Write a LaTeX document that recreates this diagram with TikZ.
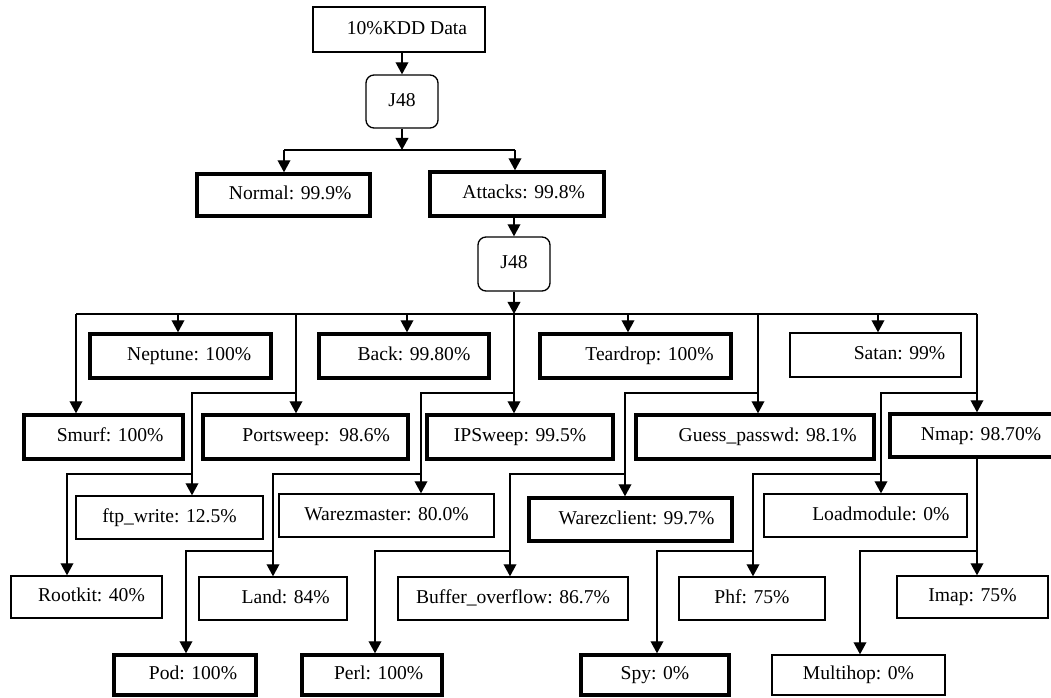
\documentclass[tikz,border=0pt]{standalone}
\usepackage{fontspec}
\setmainfont{Liberation Serif}
\usetikzlibrary{arrows.meta}
\tikzset{
  box/.style={draw, line width=1pt, inner sep=0pt, font=\fontsize{14.7}{17}\selectfont, text height=10pt, text depth=3.2pt},
  boldbox/.style={box, line width=2.5pt},
  roundbox/.style={box, rounded corners=6pt},
  sz/.style 2 args={minimum width=#1*0.75pt, minimum height=#2*0.75pt},
  push/.style={execute at begin node={\hspace*{#1pt}}},
  arr/.style={-{Triangle[length=9pt,width=9.5pt]}, line width=1pt},
  link/.style={line width=1pt}
}

\begin{document}
\begin{tikzpicture}[x=0.75pt, y=-0.75pt]
\useasboundingbox (0,0) rectangle (1051,698);

% first split
\node[box, sz={172}{45}, push=12] (kdd) at (399,29.5) {10\%KDD Data};
\node[roundbox, sz={72}{53}] (j1) at (402,101.5) {J48};
\node[boldbox, sz={173}{42}, push=10] (normal) at (283.5,195) {Normal: 99.9\%};
\node[boldbox, sz={174}{44}, push=10] (attacks) at (517,194) {Attacks: 99.8\%};
\node[roundbox, sz={72}{54}] (j2) at (514,264) {J48};

% attack classes
\node[boldbox, sz={181}{44}, push=13] (neptune) at (180.5,356) {Neptune: 100\%};
\node[boldbox, sz={170}{44}, push=15] (back) at (404,356) {Back: 99.80\%};
\node[boldbox, sz={191}{44}, push=21] (teardrop) at (635.5,356) {Teardrop: 100\%};
\node[box, sz={171}{44}, push=36] (satan) at (875.5,355) {Satan: 99\%};
\node[boldbox, sz={159}{44}, push=10] (smurf) at (103.5,437) {Smurf: 100\%};
\node[boldbox, sz={205}{44}, push=16] (portsweep) at (305.5,437) {Portsweep:\ \ 98.6\%};
\node[boldbox, sz={186}{44}] (ipsweep) at (520,437) {IPSweep: 99.5\%};
\node[boldbox, sz={238}{44}, push=19] (guess) at (755,437) {Guess\_passwd: 98.1\%};
\node[boldbox, sz={166}{43}, push=12] (nmap) at (973,435.5) {Nmap: 98.70\%};
\node[box, sz={187}{43}] (ftp) at (169.5,517.5) {ftp\_write: 12.5\%};
\node[box, sz={215}{43}] (warezmaster) at (386.5,515.5) {Warezmaster: 80.0\%};
\node[boldbox, sz={203}{43}, push=9] (warezclient) at (630.5,519.5) {Warezclient: 99.7\%};
\node[box, sz={203}{43}, push=23] (loadmodule) at (865.5,515.5) {Loadmodule: 0\%};
\node[box, sz={151}{42}, push=7.5] (rootkit) at (86.5,597) {Rootkit: 40\%};
\node[box, sz={148}{43}, push=19] (land) at (273,598.5) {Land: 84\%};
\node[box, sz={230}{43}] (buffer) at (513,598.5) {Buffer\_overflow: 86.7\%};
\node[box, sz={146}{43}] (phf) at (752,598.5) {Phf: 75\%};
\node[box, sz={151}{42}] (imap) at (972.5,597) {Imap: 75\%};
\node[boldbox, sz={142}{40}, push=12] (pod) at (185,675) {Pod: 100\%};
\node[boldbox, sz={140}{40}, push=10] (perl) at (372,675) {Perl: 100\%};
\node[boldbox, sz={148}{40}] (spy) at (655,675) {Spy: 0\%};
\node[box, sz={173}{40}] (multihop) at (858.5,675) {Multihop: 0\%};

% connectors of the first split
\draw[arr] (j1.north |- kdd.south) -- (j1.north);
\coordinate (s1) at (403,150);
\draw[arr] (j1.south) -- (j1.south |- s1);
\coordinate (dn) at (284,150);
\coordinate (da) at (515,150);
\draw[link] (dn) -- (da);
\draw[arr] (dn) -- (dn |- normal.north);
\draw[arr] (da) -- (da |- attacks.north);
\draw[arr] (j2.north |- attacks.south) -- (j2.north);

% connectors of the second split
\coordinate (s2) at (514,314);
\draw[arr] (j2.south) -- (j2.south |- s2);
\coordinate (l2) at (76,314);
\coordinate (r2) at (977,314);
\draw[link] (l2) -- (r2);
\foreach \x/\n in {76/smurf, 178/neptune, 296/portsweep, 407/back, 514/ipsweep, 628/teardrop, 758/guess, 878/satan, 977/nmap}
{
  \coordinate (d) at (\x,314);
  \draw[arr] (d) -- (d |- \n.north);
}

% side branches
\foreach \xa/\xb/\y/\n in {296/192/393/ftp, 514/421/393/warezmaster, 758/625/393/warezclient, 977/881/393/loadmodule, 192/67/474/rootkit, 421/273/474/land, 625/510/474/buffer, 881/753/474/phf, 273/186/551/pod, 510/375/551/perl, 753/657/551/spy, 977/860/551/multihop}
{
  \coordinate (p) at (\xa,\y);
  \coordinate (q) at (\xb,\y);
  \draw[arr] (p) -- (q) -- (q |- \n.north);
}
\coordinate (m) at (977,0);
\draw[arr] (nmap.south -| m) -- (imap.north -| m);
\draw[line width=2pt] (977,472) -- (977,508);
\end{tikzpicture}
\end{document}
